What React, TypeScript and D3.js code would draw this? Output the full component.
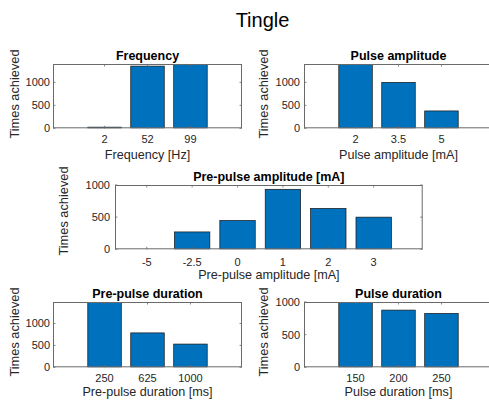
import React from "react";
import * as d3 from "d3";

// Counts of how often each stimulation setting was reached ("Tingle")
const frequencyCats = ["2", "52", "99"];
const frequencyValues = [25, 1354, 1400];

const pulseAmpCats = ["2", "3.5", "5"];
const pulseAmpValues = [1400, 1000, 378];

const prePulseAmpCats = ["-5", "-2.5", "0", "1", "2", "3"];
const prePulseAmpValues = [0, 270, 448, 933, 636, 500];

const prePulseDurCats = ["250", "625", "1000"];
const prePulseDurValues = [1490, 785, 530];

const pulseDurCats = ["150", "200", "250"];
const pulseDurValues = [1075, 876, 825];

const yTickValues = [0, 500, 1000];

const FONT = "'Liberation Sans', Arial, Helvetica, sans-serif";
const BAR_FILL = "#0072BD";
const AXIS_COLOR = "#6a6a6a";
const TEXT_COLOR = "#262626";

type PanelSpec = {
  id: string;
  title: string;
  xlabel: string;
  cats: string[];
  values: number[];
  box: { x: number; y: number; w: number; h: number };
  xDomain: [number, number];
  yMax: number;
  ylabelX: number;
  ylabelCY: number;
  tickGap: number;
  titleBase: number;
  tickBase: number;
  xlabelBase: number;
};

const panels: PanelSpec[] = [
  {
    id: "freq",
    title: "Frequency",
    xlabel: "Frequency [Hz]",
    cats: frequencyCats,
    values: frequencyValues,
    box: { x: 53, y: 64, w: 189, h: 64.3 },
    xDomain: [-1.2, 3.2],
    yMax: 1400,
    ylabelX: 19,
    ylabelCY: 94,
    tickGap: 3,
    titleBase: 60,
    tickBase: 143.3,
    xlabelBase: 159.3,
  },
  {
    id: "pamp",
    title: "Pulse amplitude",
    xlabel: "Pulse amplitude [mA]",
    cats: pulseAmpCats,
    values: pulseAmpValues,
    box: { x: 304, y: 64, w: 189, h: 64.3 },
    xDomain: [-1.2, 3.2],
    yMax: 1400,
    ylabelX: 268.3,
    ylabelCY: 94,
    tickGap: 4,
    titleBase: 60,
    tickBase: 143.3,
    xlabelBase: 159.3,
  },
  {
    id: "ppamp",
    title: "Pre-pulse amplitude [mA]",
    xlabel: "Pre-pulse amplitude [mA]",
    cats: prePulseAmpCats,
    values: prePulseAmpValues,
    box: { x: 115, y: 185, w: 307.7, h: 64.3 },
    xDomain: [-0.7, 6.08],
    yMax: 1000,
    ylabelX: 68.3,
    ylabelCY: 211,
    tickGap: 5,
    titleBase: 181,
    tickBase: 266,
    xlabelBase: 279,
  },
  {
    id: "ppdur",
    title: "Pre-pulse duration",
    xlabel: "Pre-pulse duration [ms]",
    cats: prePulseDurCats,
    values: prePulseDurValues,
    box: { x: 53, y: 302, w: 189, h: 65.3 },
    xDomain: [-1.2, 3.2],
    yMax: 1490,
    ylabelX: 19.3,
    ylabelCY: 332,
    tickGap: 3,
    titleBase: 297.5,
    tickBase: 382.3,
    xlabelBase: 395.5,
  },
  {
    id: "pdur",
    title: "Pulse duration",
    xlabel: "Pulse duration [ms]",
    cats: pulseDurCats,
    values: pulseDurValues,
    box: { x: 304, y: 302, w: 189, h: 65.3 },
    xDomain: [-1.2, 3.2],
    yMax: 1000,
    ylabelX: 268.3,
    ylabelCY: 332,
    tickGap: 4,
    titleBase: 297.5,
    tickBase: 382.3,
    xlabelBase: 395.5,
  },
];

const BAR_WIDTH = 0.78; // fraction of category spacing
const TICK_LEN = 2.5;

function Panel({ p }: { p: PanelSpec }) {
  const { box } = p;
  const x = d3.scaleLinear().domain(p.xDomain).range([box.x, box.x + box.w]);
  const y = d3.scaleLinear().domain([0, p.yMax]).range([box.y + box.h, box.y]);
  const step = x(1) - x(0);
  const bw = step * BAR_WIDTH;
  const clipId = `clip-${p.id}`;
  const bottom = box.y + box.h;
  const right = box.x + box.w;

  return (
    <g>
      <defs>
        <clipPath id={clipId}>
          <rect x={box.x} y={box.y} width={box.w} height={box.h} />
        </clipPath>
      </defs>
      {/* bars */}
      <g clipPath={`url(#${clipId})`}>
        {p.values.map((v, i) => (
          <rect
            key={i}
            x={x(i) - bw / 2}
            y={y(v)}
            width={bw}
            height={Math.max(0, y(0) - y(v))}
            fill={BAR_FILL}
            stroke="#151515"
            strokeWidth={0.7}
          />
        ))}
      </g>
      {/* axes box */}
      <rect
        x={box.x + 0.5}
        y={box.y + 0.5}
        width={box.w - 1}
        height={box.h - 1}
        fill="none"
        stroke={AXIS_COLOR}
        strokeWidth={1}
      />
      {/* x ticks (inward, bottom and top) */}
      {p.cats.map((c, i) => (
        <g key={c}>
          <line x1={x(i)} x2={x(i)} y1={bottom} y2={bottom - TICK_LEN} stroke={AXIS_COLOR} strokeWidth={0.8} />
          <line x1={x(i)} x2={x(i)} y1={box.y} y2={box.y + TICK_LEN} stroke={AXIS_COLOR} strokeWidth={0.8} />
          <text
            x={x(i)}
            y={p.tickBase}
            textAnchor="middle"
            fontSize={11}
            fill={TEXT_COLOR}
            fontFamily={FONT}
          >
            {c}
          </text>
        </g>
      ))}
      {/* y ticks */}
      {yTickValues.map((t) => (
        <g key={t}>
          <line x1={box.x} x2={box.x + TICK_LEN} y1={y(t)} y2={y(t)} stroke={AXIS_COLOR} strokeWidth={0.8} />
          <line x1={right} x2={right - TICK_LEN} y1={y(t)} y2={y(t)} stroke={AXIS_COLOR} strokeWidth={0.8} />
          <text
            x={box.x - p.tickGap}
            y={y(t)}
            dy="0.36em"
            textAnchor="end"
            fontSize={11}
            fill={TEXT_COLOR}
            fontFamily={FONT}
          >
            {t}
          </text>
        </g>
      ))}
      {/* title */}
      <text
        x={box.x + box.w / 2}
        y={p.titleBase}
        textAnchor="middle"
        fontSize={12.5}
        fontWeight="bold"
        fill="#000"
        fontFamily={FONT}
      >
        {p.title}
      </text>
      {/* x label */}
      <text
        x={box.x + box.w / 2}
        y={p.xlabelBase}
        textAnchor="middle"
        fontSize={12.6}
        fill={TEXT_COLOR}
        fontFamily={FONT}
      >
        {p.xlabel}
      </text>
      {/* y label */}
      <text
        transform={`translate(${p.ylabelX},${p.ylabelCY}) rotate(-90)`}
        textAnchor="middle"
        fontSize={12.8}
        fill={TEXT_COLOR}
        fontFamily={FONT}
      >
        Times achieved
      </text>
    </g>
  );
}

export default function App() {
  const width = 489;
  const height = 403;
  return (
    <svg
      width={width}
      height={height}
      viewBox={`0 0 ${width} ${height}`}
      style={{ position: "absolute", left: 0, top: 0, background: "#fff" }}
    >
      <rect x={0} y={0} width={width} height={height} fill="#fff" />
      <text
        x={262.5}
        y={27}
        textAnchor="middle"
        fontSize={20}
        fill="#000"
        fontFamily={FONT}
      >
        Tingle
      </text>
      {panels.map((p) => (
        <Panel key={p.id} p={p} />
      ))}
    </svg>
  );
}
